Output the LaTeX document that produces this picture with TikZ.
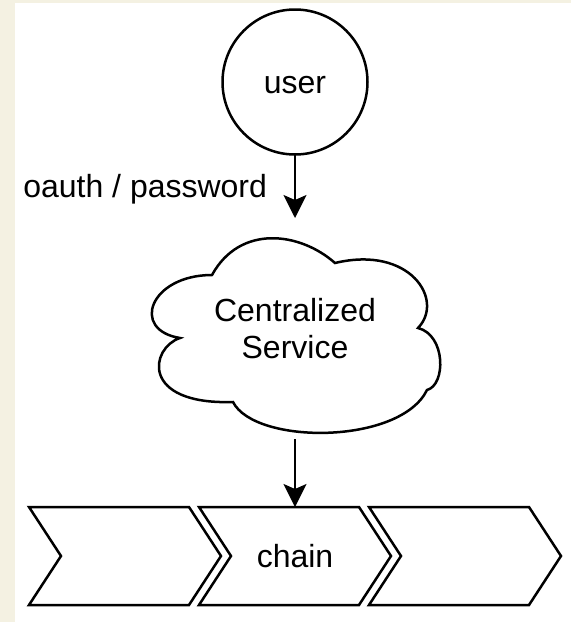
\documentclass[tikz,border=0pt]{standalone}
\usepackage{fontspec}
\setmainfont{Liberation Sans}
\usetikzlibrary{arrows.meta}
\definecolor{beige}{RGB}{244,241,226}
\tikzset{
  shapeline/.style={draw=black, line width=2.5pt, line join=miter},
  conn/.style={draw=black, line width=2pt, -{Stealth[length=23pt,width=23pt,inset=5pt]}},
  lbl/.style={font=\fontsize{32}{37}\selectfont, text height=29pt, text depth=6.8pt, inner sep=3pt},
  box/.style={draw=none, outer sep=0pt, inner sep=0pt, rectangle},
}
\begin{document}
\begin{tikzpicture}[x=1pt,y=-1pt]
\useasboundingbox (0,0) rectangle (571,622);
\fill[beige] (0,0) rectangle (571,622);
\fill[white] (15,3) rectangle (571,622);

% user circle
\node[circle, shapeline, fill=white, minimum size=145pt, inner sep=0pt, outer sep=0pt,
      font=\fontsize{32}{37}\selectfont, text height=29pt, text depth=6.8pt] (user) at (295,82) {user};

% cloud
\draw[shapeline, fill=white]
  (212,275) .. controls (150,275) and (130,330) .. (180,338)
  .. controls (150,348) and (140,405) .. (233,402)
  .. controls (255,445) and (400,445) .. (427,390)
  .. controls (446,385) and (446,335) .. (418,328)
  .. controls (445,300) and (410,245) .. (335,263)
  .. controls (300,232) and (240,224) .. cycle;
\node[box, minimum width=320pt, minimum height=221pt, align=center,
      font=\fontsize{32}{37}\selectfont] (svc) at (295,328.5) {Centralized\\Service};

% chevrons
\foreach \x in {29,199,369}{
  \draw[shapeline, fill=white] (\x,507) -- (\x+160,507) -- (\x+192,556) -- (\x+160,605)
    -- (\x,605) -- (\x+32,556) -- cycle;
}
\node[box, minimum width=192pt, minimum height=98pt] (c1) at (125,556) {};
\node[box, lbl, inner sep=0pt, minimum width=192pt, minimum height=98pt] (c2) at (295,556) {chain};
\node[box, minimum width=192pt, minimum height=98pt] (c3) at (465,556) {};

% connectors
\draw[conn] (user.south) -- node[lbl, anchor=east, xshift=-24pt] (auth) {oauth / password} (svc.north);
\draw[conn] (svc.south) -- (c2.north);
\end{tikzpicture}
\end{document}
